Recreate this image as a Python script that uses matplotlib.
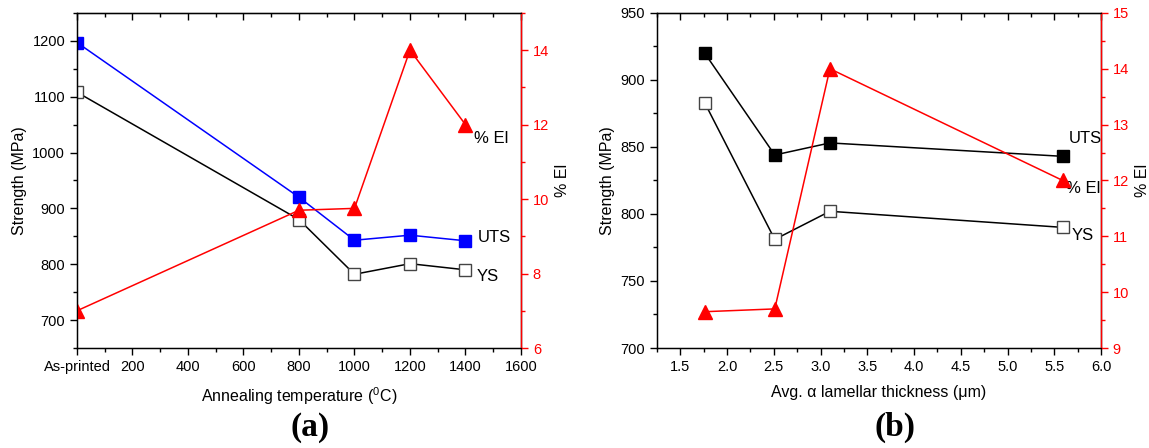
import matplotlib
matplotlib.use('Agg')
import matplotlib.pyplot as plt
from matplotlib.ticker import MultipleLocator

plt.rcParams['font.family'] = ['Liberation Sans', 'DejaVu Sans']
plt.rcParams['mathtext.fontset'] = 'custom'
plt.rcParams['mathtext.rm'] = 'Liberation Sans'

# (a) annealing temperature
temp = [0, 800, 1000, 1200, 1400]
uts_a = [1197, 920, 843, 852, 842]
ys_a = [1108, 880, 782, 801, 790]
el_a = [7.0, 9.7, 9.75, 14.0, 12.0]
temp_ticks = [0, 200, 400, 600, 800, 1000, 1200, 1400, 1600]
temp_labels = ['As-printed', '200', '400', '600', '800', '1000', '1200', '1400', '1600']

# (b) lamellar thickness
thick = [1.76, 2.51, 3.1, 5.59]
uts_b = [920, 844, 853, 843]
ys_b = [883, 781, 802, 790]
el_b = [9.65, 9.7, 14.0, 12.0]

fig = plt.figure(figsize=(11.49, 4.48), dpi=100)
ax1 = fig.add_axes([0.067, 0.2232, 0.3864, 0.748])
ax2 = fig.add_axes([0.5718, 0.2232, 0.3864, 0.748])


def style_axes(ax, axr, xmaj, xmin):
    ax.xaxis.set_major_locator(MultipleLocator(xmaj))
    ax.xaxis.set_minor_locator(MultipleLocator(xmin))
    ax.tick_params(which='both', direction='out', labelsize=10.5, width=1)
    ax.tick_params(which='major', length=5)
    ax.tick_params(which='minor', length=3)
    top = ax.secondary_xaxis('top')
    top.xaxis.set_major_locator(MultipleLocator(xmaj))
    top.xaxis.set_minor_locator(MultipleLocator(xmin))
    top.tick_params(which='both', direction='in', labeltop=False, width=1)
    top.tick_params(which='major', length=5)
    top.tick_params(which='minor', length=3)
    for s in ax.spines.values():
        s.set_linewidth(1)
    axr.spines['right'].set_color('red')
    axr.spines['right'].set_linewidth(1)
    axr.tick_params(which='both', colors='red', labelsize=10.5, direction='out', width=1)
    axr.tick_params(which='major', length=5)
    axr.tick_params(which='minor', length=3)
    ax.set_ylabel('Strength (MPa)', fontsize=11.5)
    axr.set_ylabel('% El', fontsize=11.5, labelpad=4)


# panel (a)
ax1r = ax1.twinx()
ax1.plot(temp, uts_a, color='blue', marker='s', ms=8.5, lw=1.1)
ax1.plot(temp, ys_a, color='black', marker='s', ms=8.5, lw=1.1,
         mfc='white', mec='#444444')
ax1r.plot(temp, el_a, color='red', marker='^', ms=10, lw=1.1)
ax1.set_xlim(0, 1600)
ax1.set_ylim(650, 1250)
ax1r.set_ylim(6, 15)
ax1.set_yticks([700, 800, 900, 1000, 1100, 1200])
ax1.yaxis.set_minor_locator(MultipleLocator(50))
ax1r.yaxis.set_major_locator(MultipleLocator(2))
ax1r.yaxis.set_minor_locator(MultipleLocator(1))
style_axes(ax1, ax1r, 200, 100)
ax1.set_xticks(temp_ticks)
ax1.set_xticklabels(temp_labels)
ax1.set_xlabel(r'Annealing temperature ($^{0}$C)', fontsize=11.5, labelpad=8)
ax1.text(1445, 847, 'UTS', fontsize=12, va='center')
ax1.text(1441, 778, 'YS', fontsize=12, va='center')
ax1.text(1431, 1026, '% El', fontsize=12, va='center')

# panel (b)
ax2r = ax2.twinx()
ax2.plot(thick, uts_b, color='black', marker='s', ms=8.5, lw=1.1)
ax2.plot(thick, ys_b, color='black', marker='s', ms=8.5, lw=1.1,
         mfc='white', mec='#444444')
ax2r.plot(thick, el_b, color='red', marker='^', ms=10, lw=1.1)
ax2.set_xlim(1.25, 6.0)
ax2.set_ylim(700, 950)
ax2r.set_ylim(9, 15)
ax2.yaxis.set_major_locator(MultipleLocator(50))
ax2.yaxis.set_minor_locator(MultipleLocator(25))
ax2r.yaxis.set_major_locator(MultipleLocator(1))
ax2r.yaxis.set_minor_locator(MultipleLocator(0.5))
style_axes(ax2, ax2r, 0.5, 0.25)
ax2.set_xticks([1.5, 2.0, 2.5, 3.0, 3.5, 4.0, 4.5, 5.0, 5.5, 6.0])
ax2.set_xlabel('Avg. α lamellar thickness (μm)', fontsize=11.5, labelpad=8)
ax2.text(5.65, 856, 'UTS', fontsize=12, va='center')
ax2.text(5.63, 819, '% El', fontsize=12, va='center')
ax2.text(5.69, 784, 'YS', fontsize=12, va='center')

fig.text(310 / 1149, 1 - 427 / 448, '(a)', fontsize=24, fontweight='bold',
         family='Liberation Serif', ha='center', va='center')
fig.text(895 / 1149, 1 - 427 / 448, '(b)', fontsize=24, fontweight='bold',
         family='Liberation Serif', ha='center', va='center')

fig.savefig('out.png', dpi=100)
